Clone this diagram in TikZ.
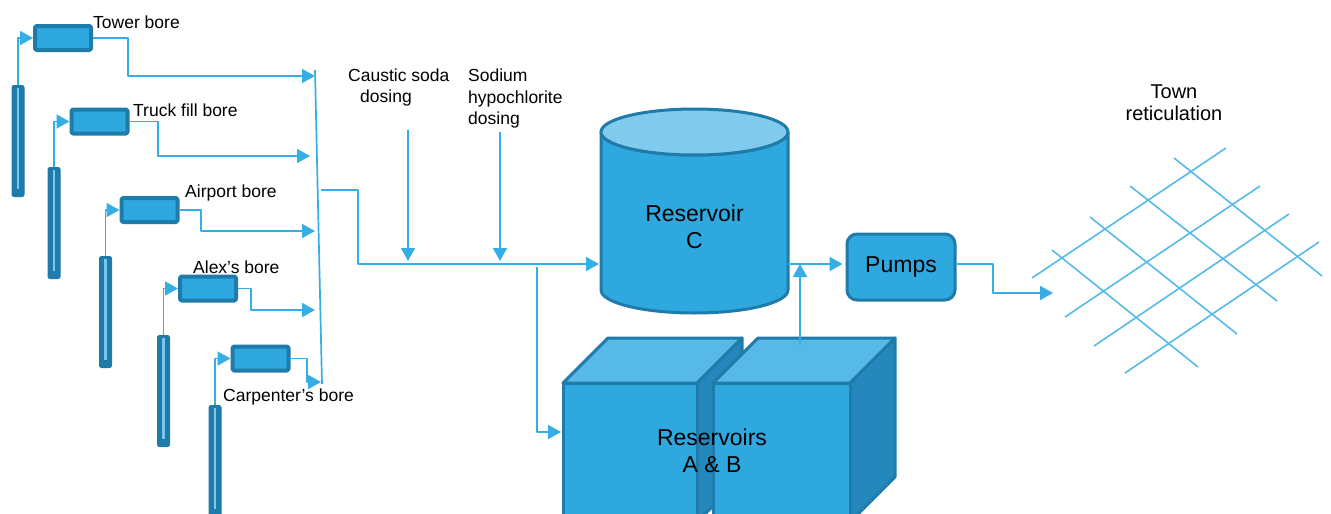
\documentclass[tikz,border=0pt]{standalone}
\usepackage{fontspec}
\setmainfont{Liberation Sans}
\usetikzlibrary{arrows.meta}
\definecolor{tankblue}{RGB}{46,168,223}
\definecolor{tankedge}{RGB}{31,123,170}
\definecolor{tanklid}{RGB}{128,203,236}
\definecolor{cubetop}{RGB}{86,185,231}
\definecolor{cubeside}{RGB}{36,136,188}
\definecolor{pipeblue}{RGB}{52,174,228}
\definecolor{corelight}{RGB}{120,200,238}
\definecolor{gridblue}{RGB}{84,187,233}
\begin{document}
\begin{tikzpicture}[x=1pt,y=-1pt,line join=round,
		pipe/.style={draw=pipeblue,line width=1.7pt,-{Triangle[length=13pt,width=14pt]}},
		line/.style={draw=pipeblue,line width=1.7pt},
		tank/.style={fill=tankblue,draw=tankedge,line width=3pt},
		borebox/.style={tank,line width=4pt,minimum width=56pt,minimum height=24pt,rounded corners=1.5pt,inner sep=0pt},
		wellbox/.style={fill=tankedge,draw=tankedge,line width=1pt,minimum width=12pt,minimum height=111pt,rounded corners=2pt,inner sep=0pt},
		lbl/.style={font=\fontsize{17.5}{21.5}\selectfont,inner sep=0pt},
		bigtxt/.style={font=\fontsize{23}{27}\selectfont,align=center,inner sep=0pt},
		mesh/.style={draw=gridblue,line width=1.6pt}]
	\useasboundingbox (0,0) rectangle (1331,514);
	% bores
	\foreach \n/\wx/\wt/\bx/\by/\kx/\ay/\ex/\lx/\ly/\txt in {
		1/18/85/63/38/128/76/315/93/22/Tower bore,
		2/54/167/99.5/121.5/158/156/310/133/110/Truck fill bore,
		3/105.5/256/149.5/210/201/231/315/185/193/Airport bore,
		4/163.5/335/208/288.5/251/310/315/193/267/Alex’s bore,
		5/215/405/260.5/358.5/307/382/321/223/397/Carpenter’s bore}
	{
		\node[wellbox,anchor=north] (well\n) at (\wx,\wt) {};
		\draw[draw=corelight,line width=2.5pt] ([yshift=-3pt]well\n.north) -- ([yshift=8pt]well\n.south);
		\node[borebox] (bore\n) at (\bx,\by) {};
		\node[lbl,anchor=west] (name\n) at (\lx,\ly) {\txt};
		\draw[pipe] (well\n.north) |- (bore\n.west);
		\draw[pipe] (bore\n.east) -| (\kx,\ay) -- (\ex,\ay);
	}
	\coordinate (ctop) at (315,70);
	\coordinate (cbot) at (322,384);
	\draw[line] (ctop) -- (cbot);
	% reservoir C
	\draw[tank] (601,132) -- (601,290) arc[start angle=180,end angle=0,x radius=93.5,y radius=23]
		-- (788,132) arc[start angle=0,end angle=180,x radius=93.5,y radius=23] -- cycle;
	\draw[tank,fill=tanklid] (694.5,132) ellipse[x radius=93.5,y radius=23];
	\node[bigtxt] (resC) at (694.5,227) {Reservoir\\C};
	% reservoirs A & B
	\foreach \cx/\cw in {563/134,713/137}
	{
		\draw[tank,fill=cubeside] (\cx+\cw,383) -- ++(45,-45) -- ++(0,139) -- ++(-45,45) -- cycle;
		\draw[tank,fill=cubetop] (\cx,383) -- ++(45,-45) -- ++(\cw,0) -- ++(-45,45) -- cycle;
		\draw[tank] (\cx,383) rectangle ++(\cw,139);
	}
	\node[bigtxt] (resAB) at (712,451) {Reservoirs\\A \& B};
	% pumps
	\node[tank,rounded corners=10pt,minimum width=108pt,minimum height=66pt,font=\fontsize{23}{27}\selectfont] (pumps) at (901,267) {Pumps};
	% dosing
	\node[lbl,align=left,anchor=west] (caustic) at (348,87.5) {Caustic soda\\\hspace*{12pt}dosing};
	\node[lbl,align=left,anchor=west] (sodium) at (468,98.5) {Sodium\\hypochlorite\\dosing};
	\coordinate (cout) at (321,190);
	\coordinate (cleft) at (599,264);
	\coordinate (cright) at (788,264);
	\coordinate (cdose) at (408,130);
	\coordinate (sdose) at (500,132);
	\coordinate (branch) at (537,267);
	\coordinate (abin) at (561,432);
	\coordinate (abtop) at (800,345);
	\draw[pipe] (cout) -| (358,264) -- (cleft);
	\draw[pipe,shorten >=3pt] (cdose) -- (cdose |- cleft);
	\draw[pipe,shorten >=3pt] (sdose) -- (sdose |- cleft);
	\draw[pipe] (branch) |- (abin);
	\draw[pipe,shorten >=3pt] (cright) -- (cright -| pumps.west);
	\draw[pipe] (abtop) -- (abtop |- cright);
	% town
	\draw[pipe] (pumps.east |- cright) -| (993,293) -- (1053,293);
	\node[font=\fontsize{20}{21.5}\selectfont,align=center,inner sep=0pt] (town) at (1174,102.5) {Town\\reticulation};
	\foreach \xa/\ya/\xb/\yb in {1032/278/1226/148,1065/317/1260/186,1094/346/1289/214,1125/373/1319/242,
		1174/158/1322/276,1130/186/1277/301,1090/217/1237/334,1052/250/1198/367}
	\draw[mesh] (\xa,\ya) -- (\xb,\yb);
\end{tikzpicture}
\end{document}
